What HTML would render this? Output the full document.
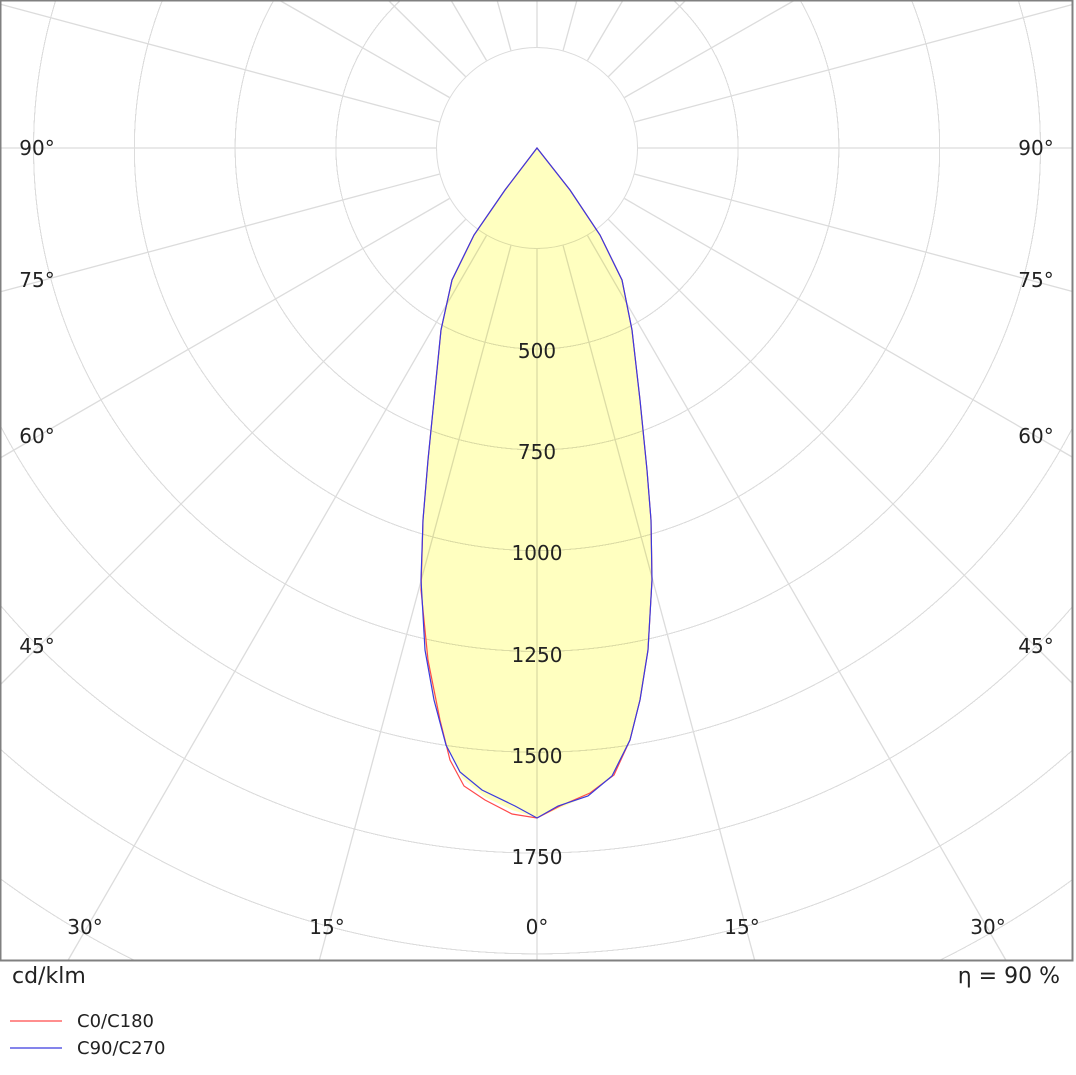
<!DOCTYPE html>
<html><head><style>
html,body{margin:0;padding:0;background:#fff;width:1076px;height:1075px;overflow:hidden;position:relative}
#grid{position:absolute;left:0;top:0;width:1073px;height:960px;
background:repeating-radial-gradient(circle at 537px 148px, rgba(220,220,220,0) 0px, rgba(220,220,220,0) 99.6px, #dcdcdc 99.8px, #dcdcdc 100.8px)}
#inner{position:absolute;left:436px;top:47px;width:202px;height:202px;border-radius:50%;background:#fff;box-sizing:border-box;border:1.3px solid #dcdcdc}
svg{position:absolute;left:0;top:0;display:block}
</style></head><body>
<div id="grid"></div>
<div id="inner"></div>
<svg width="1076" height="1075" viewBox="0 0 1076 1075" xmlns="http://www.w3.org/2000/svg" font-family="'DejaVu Sans','Liberation Sans',sans-serif">
<g stroke="#dcdcdc" stroke-width="1.3" fill="none">
<line x1="537" y1="249" x2="537" y2="960"/>
<line x1="563.1" y1="245.6" x2="754.6" y2="960"/><line x1="510.9" y1="245.6" x2="319.4" y2="960"/>
<line x1="587.5" y1="235.5" x2="1005.8" y2="960"/><line x1="486.5" y1="235.5" x2="68.2" y2="960"/>
<line x1="608.4" y1="219.4" x2="1073" y2="684"/><line x1="465.6" y1="219.4" x2="1" y2="684"/>
<line x1="624.5" y1="198.5" x2="1073" y2="457.5"/><line x1="449.5" y1="198.5" x2="1" y2="457.5"/>
<line x1="634.6" y1="174.1" x2="1073" y2="291.6"/><line x1="439.4" y1="174.1" x2="1" y2="291.6"/>
<line x1="638" y1="148" x2="1073" y2="148"/><line x1="436" y1="148" x2="1" y2="148"/>
<line x1="634.6" y1="121.9" x2="1073" y2="4.4"/><line x1="439.4" y1="121.9" x2="1" y2="4.4"/>
<line x1="624.5" y1="97.5" x2="793.3" y2="1"/><line x1="449.5" y1="97.5" x2="280.7" y2="1"/>
<line x1="608.4" y1="76.6" x2="685" y2="1"/><line x1="465.6" y1="76.6" x2="389" y2="1"/>
<line x1="587.5" y1="60.5" x2="622.5" y2="1"/><line x1="486.5" y1="60.5" x2="451.5" y2="1"/>
<line x1="563.1" y1="50.4" x2="576.7" y2="1"/><line x1="510.9" y1="50.4" x2="497.3" y2="1"/>
<line x1="537" y1="47" x2="537" y2="1"/>
</g>
<path style="mix-blend-mode:multiply" d="M537,148 L570,190 L600,235 L622,280 L632,330 L640,400 L647,470 L651,520 L652,580 L648,650 L640,700 L630,740 L614,775 L590,795 L560,808 L537,818 L512,810 L485,797 L462,778 L446,745 L434,700 L425,650 L421,580 L423,520 L428,460 L434,400 L441,330 L452,280 L474,235 L505,190 Z" fill="#ffffc0" stroke="none"/>
<path d="M537,148 L570,190 L600,235 L622,280 L632,330 L640,400 L647,470 L651,520 L652,580 L648,650 L640,700 L630,740 L614,775 L590,793 L560,806 L537,818 L512,814 L485,800 L464,786 L450,760 L440,720 L428,660 L421,590 L423,520 L428,460 L434,400 L441,330 L452,280 L474,235 L505,190 Z" fill="none" stroke="#ff4a4a" stroke-width="1.2"/>
<path d="M537,148 L570,190 L600,235 L622,280 L632,330 L640,400 L647,470 L651,520 L652,580 L648,650 L640,700 L630,740 L612,776 L588,796 L558,806 L537,818 L515,806 L482,790 L460,772 L446,745 L434,700 L425,650 L421,580 L423,520 L428,460 L434,400 L441,330 L452,280 L474,235 L505,190 Z" fill="none" stroke="#3a3adf" stroke-width="1.2"/>
<rect x="0.5" y="0.5" width="1072" height="960" fill="none" stroke="#808080" stroke-width="2"/>
<g font-size="20" fill="#222" text-anchor="middle">
<text x="537" y="358">500</text><text x="537" y="459">750</text><text x="537" y="560">1000</text>
<text x="537" y="662">1250</text><text x="537" y="763">1500</text><text x="537" y="864">1750</text>
<text x="37" y="155">90°</text><text x="1036" y="155">90°</text>
<text x="37" y="287">75°</text><text x="1036" y="287">75°</text>
<text x="37" y="443">60°</text><text x="1036" y="443">60°</text>
<text x="37" y="653">45°</text><text x="1036" y="653">45°</text>
<text x="85" y="934">30°</text><text x="327" y="934">15°</text><text x="537" y="934">0°</text>
<text x="742" y="934">15°</text><text x="988" y="934">30°</text>
</g>
<text x="12" y="983" font-size="22" fill="#222">cd/klm</text>
<text x="1060" y="983" font-size="22" fill="#222" text-anchor="end">η = 90 %</text>
<line x1="10" y1="1021" x2="62" y2="1021" stroke="#ff4a4a" stroke-width="1.3"/>
<line x1="10" y1="1048" x2="62" y2="1048" stroke="#3a3adf" stroke-width="1.3"/>
<text x="77" y="1027" font-size="18" fill="#222">C0/C180</text>
<text x="77" y="1054" font-size="18" fill="#222">C90/C270</text>
</svg>
</body></html>
